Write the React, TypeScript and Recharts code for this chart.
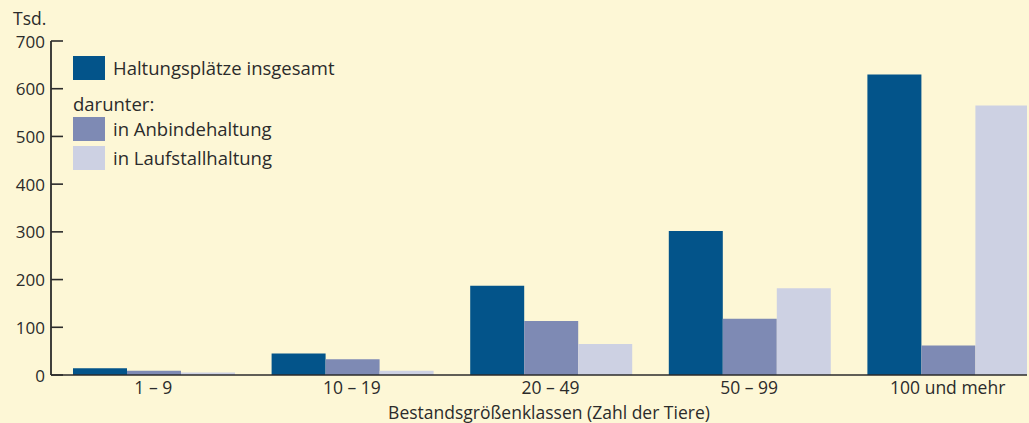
import { Bar, BarChart, Legend, XAxis, YAxis } from "recharts";

const categories = ["1 – 9", "10 – 19", "20 – 49", "50 – 99", "100 und mehr"];
const insgesamt = [14, 45, 187, 302, 630];
const anbindehaltung = [9, 33, 113, 118, 62];
const laufstallhaltung = [5, 9, 65, 182, 565];
const yTicks = [0, 100, 200, 300, 400, 500, 600, 700];

const BG = "#fdf7d6";
const INK = "#2b2b2b";
const FONT = "'Open Sans', 'Noto Sans', sans-serif";

const data = categories.map((name, i) => ({
	name,
	insgesamt: insgesamt[i],
	anbinde: anbindehaltung[i],
	laufstall: laufstallhaltung[i],
}));

function YTick({ x, y, payload }: any) {
	return (
		<g>
			<line x1={x + 6} x2={x + 18} y1={y} y2={y} stroke={INK} strokeWidth={1.6} />
			<text
				x={x}
				y={y}
				textAnchor="end"
				dominantBaseline="central"
				fill={INK}
				fontSize={17}
				fontFamily={FONT}
			>
				{payload.value}
			</text>
		</g>
	);
}

function LegendBox({ payload }: any) {
	const items = payload ?? [];
	const row = (item: any, top: number) => (
		<div
			key={item.value}
			style={{ position: "absolute", left: 0, top, display: "flex", alignItems: "center" }}
		>
			<span style={{ width: 32, height: 24, background: item.color, display: "inline-block" }} />
			<span style={{ marginLeft: 8, whiteSpace: "nowrap" }}>{item.value}</span>
		</div>
	);
	return (
		<div
			style={{
				position: "relative",
				width: 340,
				height: 116,
				fontFamily: FONT,
				fontSize: 18.5,
				color: INK,
				lineHeight: "24px",
			}}
		>
			{items[0] && row(items[0], 0)}
			<div style={{ position: "absolute", left: 0, top: 36 }}>darunter:</div>
			{items[1] && row(items[1], 61)}
			{items[2] && row(items[2], 90)}
		</div>
	);
}

export default function App() {
	return (
		<div
			style={{
				position: "absolute",
				left: 0,
				top: 0,
				width: 1029,
				height: 423,
				background: BG,
				overflow: "hidden",
			}}
		>
			<div
				style={{
					position: "absolute",
					left: 13,
					top: 9,
					fontFamily: FONT,
					fontSize: 17.5,
					lineHeight: "18px",
					color: INK,
				}}
			>
				Tsd.
			</div>
			<div style={{ position: "absolute", left: 0, top: 0, width: 1027, height: 423, overflow: "hidden" }}>
				<BarChart
					width={1047}
					height={423}
					data={data}
					margin={{ top: 41, right: 0, bottom: 0, left: 0 }}
					barCategoryGap={19}
					barGap={0}
				>
					<XAxis
						dataKey="name"
						height={48}
						padding={{ left: 3, right: 0 }}
						tickLine={false}
						tickSize={0}
						tickMargin={7}
						axisLine={{ stroke: INK, strokeWidth: 1.6 }}
						tick={{ fill: INK, fontSize: 17.5, fontFamily: FONT }}
						interval={0}
						label={{
							value: "Bestandsgrößenklassen (Zahl der Tiere)",
							position: "insideBottom",
							offset: 4,
							fill: INK,
							fontSize: 17.5,
							fontFamily: FONT,
						}}
					/>
					<YAxis
						width={51}
						domain={[0, 700]}
						ticks={yTicks}
						interval={0}
						tickLine={false}
						tickSize={0}
						tickMargin={6}
						axisLine={{ stroke: INK, strokeWidth: 1.8 }}
						tick={<YTick />}
					/>
					<Legend
						layout="horizontal"
						verticalAlign="middle"
						align="center"
						content={<LegendBox />}
						wrapperStyle={{ top: 56, left: 73, width: 340 }}
					/>
					<Bar dataKey="insgesamt" name="Haltungsplätze insgesamt" fill="#03548a" isAnimationActive={false} />
					<Bar dataKey="anbinde" name="in Anbindehaltung" fill="#7e8ab4" isAnimationActive={false} />
					<Bar dataKey="laufstall" name="in Laufstallhaltung" fill="#cdd1e3" isAnimationActive={false} />
				</BarChart>
			</div>
		</div>
	);
}
